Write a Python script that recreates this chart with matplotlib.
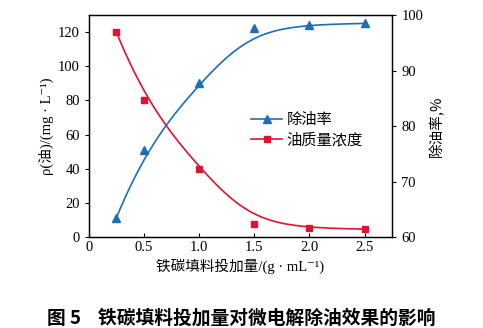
import numpy as np
import matplotlib
matplotlib.use("Agg")
import matplotlib.pyplot as plt

plt.rcParams['font.family'] = ['Liberation Serif', 'Noto Sans CJK SC', 'DejaVu Serif']
plt.rcParams['mathtext.fontset'] = 'stix'

dosage = [0.25, 0.5, 1.0, 1.5, 2.0, 2.5]
oil_conc = [120.0, 80.0, 40.0, 7.6, 5.3, 4.7]
removal = [63.5, 75.7, 87.8, 97.6, 98.3, 98.5]

blue = '#1a6fb8'
red = '#e3122f'


def bspline(px, py, k=3, n=300):
    """Clamped uniform B-spline using data points as control points."""
    px = np.asarray(px, float)
    py = np.asarray(py, float)
    m = len(px)
    inner = np.arange(1, m - k)
    knots = np.concatenate([np.zeros(k + 1), inner, np.full(k + 1, m - k)])
    t = np.linspace(0, m - k, n)
    t[-1] -= 1e-9
    B = np.zeros((n, len(knots) - 1))
    for i in range(len(knots) - 1):
        B[:, i] = (knots[i] <= t) & (t < knots[i + 1])
    for d in range(1, k + 1):
        Bn = np.zeros((n, len(knots) - 1 - d))
        for i in range(len(knots) - 1 - d):
            a = np.zeros(n)
            b = np.zeros(n)
            den1 = knots[i + d] - knots[i]
            den2 = knots[i + d + 1] - knots[i + 1]
            if den1 > 0:
                a = (t - knots[i]) / den1 * B[:, i]
            if den2 > 0:
                b = (knots[i + d + 1] - t) / den2 * B[:, i + 1]
            Bn[:, i] = a + b
        B = Bn
    return B @ px, B @ py


fig = plt.figure(figsize=(4.83, 3.28), dpi=100)
ax = fig.add_axes([0.184, 0.277, 0.628, 0.677])
ax2 = ax.twinx()

cx, cy = bspline(dosage, oil_conc)
rx, ry = bspline(dosage, removal)

ax.plot(cx, cy, color=red, lw=1.2)
ax.plot(dosage, oil_conc, 's', color=red, ms=5)
ax2.plot(rx, ry, color=blue, lw=1.2)
ax2.plot(dosage, removal, '^', color=blue, ms=6)

# legend proxies
l1, = ax.plot([], [], '-^', color=blue, ms=6, lw=1.2)
l2, = ax.plot([], [], '-s', color=red, ms=5, lw=1.2)
ax.legend([l1, l2], ['除油率', '油质量浓度'], loc='upper left',
          bbox_to_anchor=(0.49, 0.63), frameon=False,
          handlelength=2.0, handletextpad=0.3, labelspacing=0.2,
          prop={'family': ['Noto Sans CJK SC'], 'size': 11})

ax.set_xlim(0, 2.75)
ax.set_ylim(0, 130)
ax2.set_ylim(60, 100)
ax.set_xticks([0, 0.5, 1.0, 1.5, 2.0, 2.5])
ax.set_xticklabels(['0', '0.5', '1.0', '1.5', '2.0', '2.5'])
ax.set_yticks(range(0, 121, 20))
ax2.set_yticks(range(60, 101, 10))

ax.tick_params(axis='x', direction='in', length=3, labelsize=10.5, pad=3)
ax.tick_params(axis='y', direction='out', length=3, labelsize=10.5)
ax2.tick_params(axis='y', direction='out', length=3, labelsize=10.5)

for a in (ax, ax2):
    for s in a.spines.values():
        s.set_linewidth(0.9)

ax.set_ylabel('ρ(油)/(mg · L⁻¹)', fontsize=10.5, labelpad=3)
ax2.set_ylabel('除油率,%', fontsize=10.5, labelpad=4,
               family=['Noto Sans CJK SC'])
ax.set_xlabel('铁碳填料投加量/(g · mL⁻¹)', fontsize=10.5, labelpad=3)

fig.text(0.5, 0.03, '图 5    铁碳填料投加量对微电解除油效果的影响',
         ha='center', va='center', fontsize=13.5, fontweight='bold',
         family=['Noto Sans CJK SC'])

fig.savefig('out.png', dpi=100)
